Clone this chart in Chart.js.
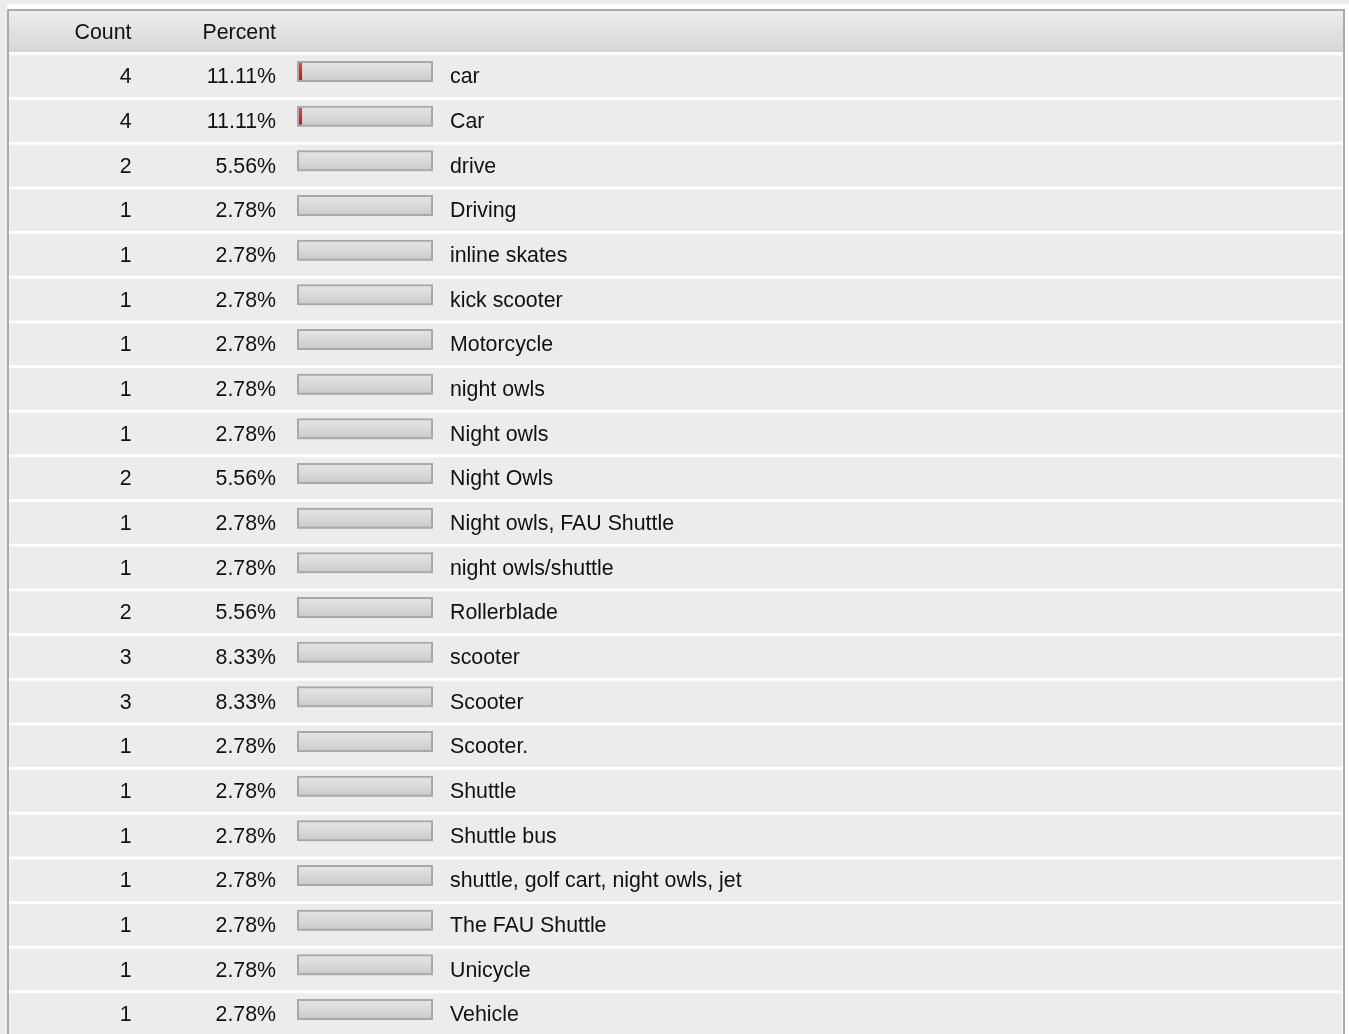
<!DOCTYPE html>
<html>
<head>
<meta charset="utf-8">
<script src="https://cdn.jsdelivr.net/npm/chart.js@4.4.1/dist/chart.umd.min.js"></script>
<style>
  html, body { margin: 0; padding: 0; overflow: hidden; background: #fff; }
  #wrap { position: absolute; left: 0; top: 0; width: 1349px; height: 1034px; }
</style>
</head>
<body>
<div id="wrap"><canvas id="c"></canvas></div>
<script>
// ---- data ----
const categories = ['car', 'Car', 'drive', 'Driving', 'inline skates', 'kick scooter', 'Motorcycle',
  'night owls', 'Night owls', 'Night Owls', 'Night owls, FAU Shuttle', 'night owls/shuttle',
  'Rollerblade', 'scooter', 'Scooter', 'Scooter.', 'Shuttle', 'Shuttle bus',
  'shuttle, golf cart, night owls, jet', 'The FAU Shuttle', 'Unicycle', 'Vehicle'];
const counts = [4, 4, 2, 1, 1, 1, 1, 1, 1, 2, 1, 1, 2, 3, 3, 1, 1, 1, 1, 1, 1, 1];
const percents = [11.11, 11.11, 5.56, 2.78, 2.78, 2.78, 2.78, 2.78, 2.78, 5.56, 2.78, 2.78,
  5.56, 8.33, 8.33, 2.78, 2.78, 2.78, 2.78, 2.78, 2.78, 2.78];
const headers = ['Count', 'Percent'];
const percentScaleMax = 100;
const boxValues = categories.map(() => percentScaleMax);

// ---- styling helpers ----
const FONT = '21.33px "Liberation Sans", Arial, sans-serif';
function vGrad(chart, idx, half, stops) {
  const y = chart.scales && chart.scales.y;
  if (!y || !chart.chartArea) return stops[stops.length - 1][1];
  const yc = y.getPixelForValue(idx);
  const g = chart.ctx.createLinearGradient(0, yc - half, 0, yc + half);
  stops.forEach(s => g.addColorStop(s[0], s[1]));
  return g;
}

const tablePlugin = {
  id: 'tableLayout',
  beforeDatasetsDraw(chart) {
    const { ctx, width, height } = chart;
    const y = chart.scales.y;
    ctx.save();
    ctx.fillStyle = '#ffffff';
    ctx.fillRect(0, 0, width, height);
    ctx.fillStyle = '#ececec';
    ctx.fillRect(0, 0, width, 4);
    ctx.fillRect(0, 0, 7, height);
    // table border
    ctx.fillStyle = '#aaaaaa';
    ctx.fillRect(7, 9, 1338, 2);
    ctx.fillRect(7, 9, 2, height - 9);
    ctx.fillRect(1343, 9, 2, height - 9);
    // header
    const g = ctx.createLinearGradient(0, 11, 0, 52);
    g.addColorStop(0, '#ededed');
    g.addColorStop(1, '#d6d6d6');
    ctx.fillStyle = g;
    ctx.fillRect(9, 11, 1334, 41);
    // row bands
    const step = y.getPixelForValue(1) - y.getPixelForValue(0);
    categories.forEach((c, i) => {
      const yc = y.getPixelForValue(i);
      ctx.fillStyle = '#ececec';
      ctx.fillRect(9, yc - 16.2, 1333, step - 2.8);
    });
    ctx.restore();
  },
  afterDatasetsDraw(chart) {
    const { ctx } = chart;
    const y = chart.scales.y;
    ctx.save();
    ctx.font = FONT;
    ctx.fillStyle = '#111111';
    ctx.textBaseline = 'alphabetic';
    ctx.textAlign = 'right';
    ctx.fillText(headers[0], 131.5, 39.4);
    ctx.fillText(headers[1], 276, 39.4);
    categories.forEach((c, i) => {
      const base = y.getPixelForValue(i) + 11.7;
      ctx.textAlign = 'right';
      ctx.fillText(String(counts[i]), 131.5, base);
      ctx.fillText(percents[i].toFixed(2) + '%', 276, base);
      ctx.textAlign = 'left';
      ctx.fillText(c, 450, base);
    });
    ctx.restore();
  }
};

new Chart(document.getElementById('c'), {
  type: 'bar',
  data: {
    labels: categories,
    datasets: [
      {
        label: 'box border',
        data: boxValues,
        xAxisID: 'x',
        order: 0,
        backgroundColor: 'rgba(0,0,0,0)',
        borderColor: '#a8a8a8',
        borderWidth: 2,
        borderSkipped: false,
        barThickness: 21,
        grouped: false,
        inflateAmount: 0
      },
      {
        label: 'Percent',
        data: percents,
        xAxisID: 'x2',
        order: 1,
        clip: 0,
        backgroundColor: (ctx) => vGrad(ctx.chart, ctx.dataIndex, 8.5,
          [[0, '#e54848'], [0.5, '#d42a2a'], [1, '#b81c1c']]),
        borderWidth: 0,
        barThickness: 17,
        grouped: false,
        inflateAmount: 0
      },
      {
        label: 'box',
        data: boxValues,
        xAxisID: 'x',
        order: 2,
        backgroundColor: (ctx) => vGrad(ctx.chart, ctx.dataIndex, 10.5,
          [[0, '#e6e6e6'], [0.5, '#d9d9d9'], [1, '#c9c9c9']]),
        borderWidth: 0,
        barThickness: 21,
        grouped: false,
        inflateAmount: 0
      }
    ]
  },
  options: {
    indexAxis: 'y',
    responsive: true,
    maintainAspectRatio: false,
    animation: false,
    events: [],
    layout: { padding: { left: 297, right: 916, top: 49.17, bottom: 2.17 } },
    scales: {
      y: { type: 'category', display: false, offset: true, grid: { display: false } },
      x: { type: 'linear', display: false, min: 0, max: percentScaleMax, grid: { display: false } },
      x2: { type: 'linear', display: false, min: 10, max: 40, grid: { display: false } }
    },
    plugins: { legend: { display: false }, tooltip: { enabled: false }, title: { display: false } }
  },
  plugins: [tablePlugin]
});
</script>
</body>
</html>
